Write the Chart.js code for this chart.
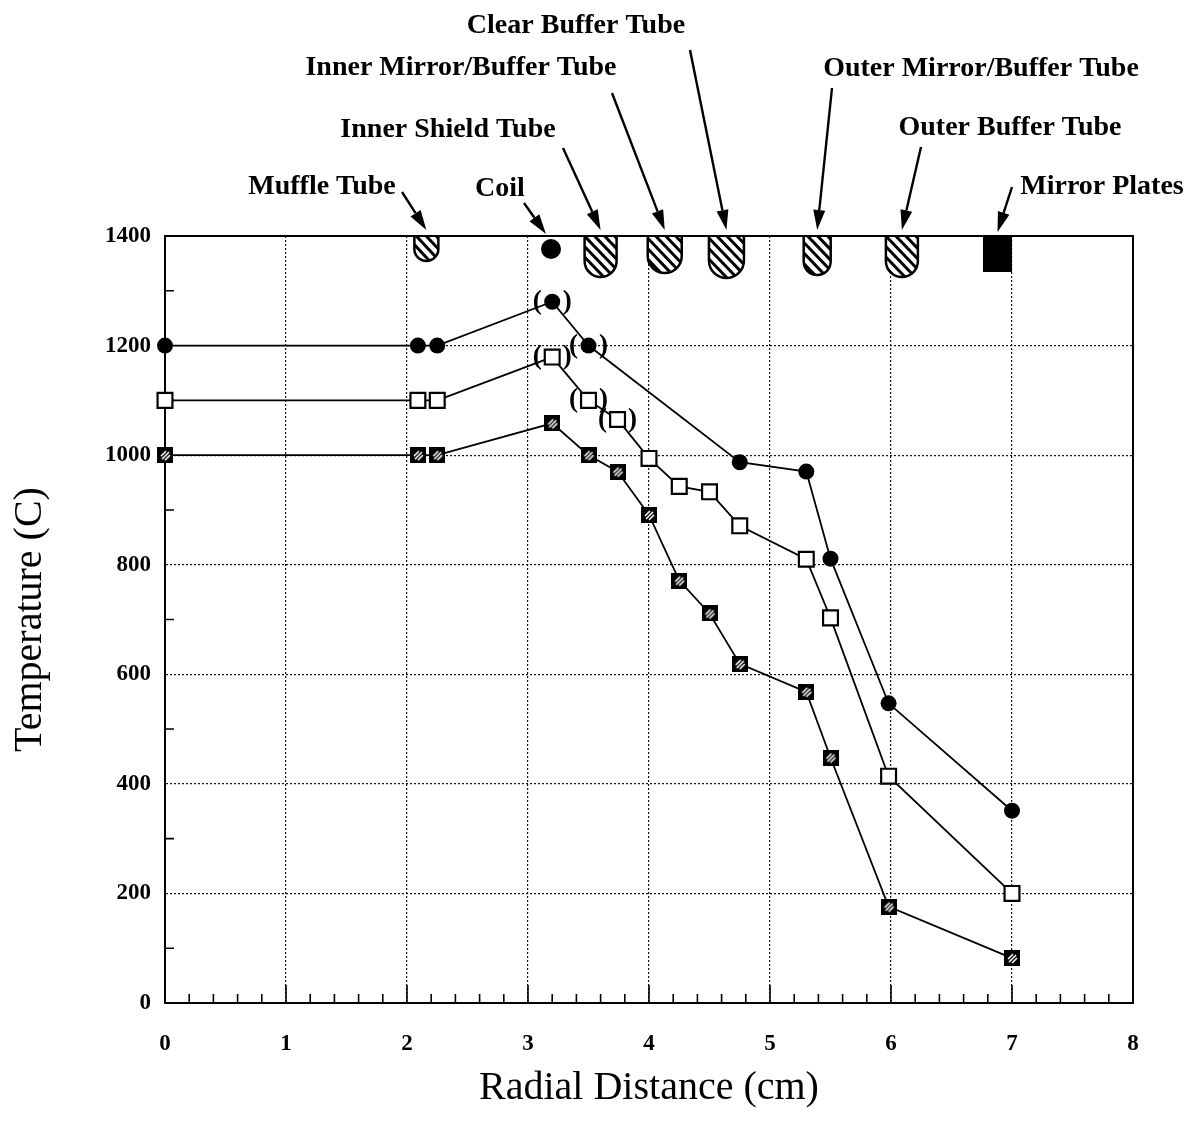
<!DOCTYPE html>
<html lang="en">
<head>
<meta charset="UTF-8">
<title>Radial Temperature Profile</title>
<script src="https://cdn.jsdelivr.net/npm/chart.js"></script>
<style>
    body { margin: 0; background: #fff; }
    .wrap { width: 1194px; height: 1130px; }
</style>
</head>
<body>
<div class="wrap"><canvas id="chart"></canvas></div>
<script>
// radial distance (cm) and temperature (C) for the three runs
const circleX = [0, 2.09, 2.25, 3.2, 3.5, 4.75, 5.3, 5.5, 5.98, 7];
const circleY = [1200, 1200, 1200, 1280, 1200, 987, 970, 811, 547, 351];
const openX = [0, 2.09, 2.25, 3.2, 3.5, 3.74, 4.0, 4.25, 4.5, 4.75, 5.3, 5.5, 5.98, 7];
const openY = [1100, 1100, 1100, 1179, 1100, 1065, 994, 943, 933, 871, 810, 703, 414, 200];
const hatchX = [0, 2.09, 2.25, 3.2, 3.5, 3.74, 4.0, 4.25, 4.5, 4.75, 5.3, 5.5, 5.98, 7];
const hatchY = [1000, 1000, 1000, 1058, 1000, 970, 891, 771, 711, 619, 568, 448, 176, 82];

// points shown in brackets
const circleBracket = [3, 4];
const openBracket = [3, 4, 5];

// furnace parts along the top edge
const partNames = ['Muffle Tube', 'Coil', 'Inner Shield Tube', 'Inner Mirror/Buffer Tube',
    'Clear Buffer Tube', 'Outer Mirror/Buffer Tube', 'Outer Buffer Tube', 'Mirror Plates'];
const partX = [2.16, 3.19, 3.6, 4.13, 4.64, 5.39, 6.09, 6.88];

const xTicks = [0, 1, 2, 3, 4, 5, 6, 7, 8];
const yTicks = [0, 200, 400, 600, 800, 1000, 1200, 1400];

const SERIF = "'Liberation Serif', 'DejaVu Serif', serif";

// drawing details for the parts: shape, size, label spot, arrow start
const partStyle = [
    { kind: 'tube', w: 24, h: 25, lx: 322, ly: 194, ax: 402, ay: 192, tipY: 230 },
    { kind: 'dot', w: 20, h: 0, lx: 500, ly: 196, ax: 524, ay: 203, tipY: 234 },
    { kind: 'tube', w: 32, h: 41, lx: 448, ly: 137, ax: 563, ay: 148, tipY: 230 },
    { kind: 'tube', w: 34, h: 37, lx: 461, ly: 75, ax: 612, ay: 93, tipY: 230 },
    { kind: 'tube', w: 35, h: 42, lx: 576, ly: 33, ax: 690, ay: 50, tipY: 230 },
    { kind: 'tube', w: 27, h: 39, lx: 981, ly: 76, ax: 832, ay: 88, tipY: 230 },
    { kind: 'tube', w: 32, h: 41, lx: 1010, ly: 135, ax: 921, ay: 147, tipY: 230 },
    { kind: 'plate', w: 29, h: 36, lx: 1102, ly: 194, ax: 1012, ay: 187, tipY: 232 }
];

function toPoints(xs, ys) {
    return xs.map((x, i) => ({ x: x, y: ys[i] }));
}

// black square with white diagonal stripes
function hatchMarker() {
    const c = document.createElement('canvas');
    c.width = 16; c.height = 16;
    const g = c.getContext('2d');
    g.fillStyle = '#000';
    g.fillRect(0, 0, 16, 16);
    g.strokeStyle = '#fff';
    g.lineWidth = 1.6;
    g.beginPath();
    g.moveTo(4, 9); g.lineTo(9, 4);
    g.moveTo(5, 12); g.lineTo(12, 5);
    g.moveTo(8, 13); g.lineTo(13, 8);
    g.stroke();
    return c;
}

function arrow(ctx, x1, y1, x2, y2) {
    const ang = Math.atan2(y2 - y1, x2 - x1);
    const len = 20, half = 6;
    const bx = x2 - len * Math.cos(ang), by = y2 - len * Math.sin(ang);
    ctx.beginPath();
    ctx.moveTo(x1, y1);
    ctx.lineTo(bx, by);
    ctx.stroke();
    ctx.beginPath();
    ctx.moveTo(x2, y2);
    ctx.lineTo(bx - half * Math.sin(ang), by + half * Math.cos(ang));
    ctx.lineTo(bx + half * Math.sin(ang), by - half * Math.cos(ang));
    ctx.closePath();
    ctx.fill();
}

function tube(ctx, cx, top, w, h) {
    const r = w / 2;
    ctx.beginPath();
    ctx.moveTo(cx - r, top);
    ctx.lineTo(cx - r, top + h - r);
    ctx.arc(cx, top + h - r, r, Math.PI, 0, true);
    ctx.lineTo(cx + r, top);
    ctx.closePath();
    ctx.fillStyle = '#fff';
    ctx.fill();
    ctx.save();
    ctx.clip();
    ctx.lineWidth = 3;
    ctx.beginPath();
    for (let k = -h; k < w + h; k += 10) {
        ctx.moveTo(cx - r + k - h, top - 2);
        ctx.lineTo(cx - r + k + 4, top + h + 4);
    }
    ctx.stroke();
    ctx.restore();
    ctx.lineWidth = 2.5;
    ctx.beginPath();
    ctx.moveTo(cx - r, top);
    ctx.lineTo(cx - r, top + h - r);
    ctx.arc(cx, top + h - r, r, Math.PI, 0, true);
    ctx.lineTo(cx + r, top);
    ctx.stroke();
}

const overlay = {
    id: 'overlay',
    beforeDatasetsDraw(chart) {
        const { ctx, chartArea: a, scales: { x, y } } = chart;
        ctx.save();
        ctx.strokeStyle = '#000';
        ctx.lineWidth = 2;
        ctx.strokeRect(a.left, a.top, a.right - a.left, a.bottom - a.top);
        // minor ticks along the bottom
        ctx.lineWidth = 1.6;
        ctx.beginPath();
        for (let i = 1; i < 40; i++) {
            const px = x.getPixelForValue(i / 5);
            const len = i % 5 === 0 ? 18 : 9;
            ctx.moveTo(px, a.bottom);
            ctx.lineTo(px, a.bottom - len);
        }
        // minor ticks along the left side
        for (let v = 100; v < 1400; v += 200) {
            const py = y.getPixelForValue(v);
            ctx.moveTo(a.left, py);
            ctx.lineTo(a.left + 9, py);
        }
        ctx.stroke();
        ctx.restore();
    },
    afterDatasetsDraw(chart) {
        const { ctx } = chart;
        ctx.save();
        ctx.fillStyle = '#000';
        ctx.font = 'bold 27px ' + SERIF;
        ctx.textAlign = 'center';
        ctx.textBaseline = 'middle';
        const marks = [[0, circleBracket], [1, openBracket]];
        marks.forEach(([di, idx]) => {
            const meta = chart.getDatasetMeta(di);
            idx.forEach(i => {
                const p = meta.data[i];
                ctx.fillText('(', p.x - 15, p.y);
                ctx.fillText(')', p.x + 15, p.y);
            });
        });
        ctx.restore();
    },
    afterDraw(chart) {
        const { ctx, chartArea: a, scales: { x } } = chart;
        ctx.save();
        ctx.strokeStyle = '#000';
        ctx.fillStyle = '#000';
        partX.forEach((v, i) => {
            const s = partStyle[i];
            const cx = x.getPixelForValue(v);
            if (s.kind === 'tube') {
                tube(ctx, cx, a.top, s.w, s.h);
            } else if (s.kind === 'dot') {
                ctx.beginPath();
                ctx.arc(cx, a.top + 13, s.w / 2, 0, Math.PI * 2);
                ctx.fill();
            } else {
                ctx.fillRect(cx - s.w / 2, a.top, s.w, s.h);
            }
            ctx.fillStyle = '#000';
            ctx.lineWidth = 2.4;
            arrow(ctx, s.ax, s.ay, cx - (i === 1 ? 5 : 0), s.tipY);
            ctx.font = 'bold 28px ' + SERIF;
            ctx.textAlign = 'center';
            ctx.textBaseline = 'alphabetic';
            ctx.fillText(partNames[i], s.lx, s.ly);
        });
        // top frame over the tubes
        ctx.lineWidth = 2;
        ctx.beginPath();
        ctx.moveTo(a.left, a.top);
        ctx.lineTo(a.right, a.top);
        ctx.stroke();
        ctx.restore();
    }
};

const lineStyle = {
    borderColor: '#000',
    borderWidth: 1.8,
    tension: 0,
    clip: false,
    pointBorderColor: '#000'
};

new Chart(document.getElementById('chart'), {
    type: 'scatter',
    data: {
        datasets: [
            Object.assign({
                label: 'Run A',
                data: toPoints(circleX, circleY),
                showLine: true,
                pointStyle: 'circle',
                pointRadius: 8,
                pointBackgroundColor: '#000',
                pointBorderWidth: 0
            }, lineStyle),
            Object.assign({
                label: 'Run B',
                data: toPoints(openX, openY),
                showLine: true,
                pointStyle: 'rect',
                pointRadius: 10.5,
                pointBackgroundColor: '#fff',
                pointBorderWidth: 2.2
            }, lineStyle),
            Object.assign({
                label: 'Run C',
                data: toPoints(hatchX, hatchY),
                showLine: true,
                pointStyle: hatchMarker(),
                pointRadius: 8
            }, lineStyle)
        ]
    },
    options: {
        responsive: true,
        maintainAspectRatio: false,
        animation: false,
        events: [],
        layout: { padding: { top: 236, right: 61, left: 0, bottom: 0 } },
        plugins: {
            legend: { display: false },
            tooltip: { enabled: false }
        },
        scales: {
            x: {
                type: 'linear',
                min: 0,
                max: 8,
                afterBuildTicks: s => { s.ticks = xTicks.map(v => ({ value: v })); },
                afterFit: s => { s.height = 127; },
                ticks: {
                    color: '#000',
                    padding: 27,
                    callback: v => String(v),
                    font: { family: SERIF, size: 23, weight: 'bold' }
                },
                grid: { color: '#111', lineWidth: 1.2, drawTicks: false },
                border: { color: '#000', width: 2, dash: [2, 2] },
                title: {
                    display: true,
                    text: 'Radial Distance (cm)',
                    color: '#000',
                    font: { family: SERIF, size: 40 },
                    padding: { top: 0, bottom: 18 }
                }
            },
            y: {
                type: 'linear',
                min: 0,
                max: 1400,
                afterBuildTicks: s => { s.ticks = yTicks.map(v => ({ value: v })); },
                afterFit: s => { s.width = 165; },
                ticks: {
                    color: '#000',
                    padding: 14,
                    callback: v => String(v),
                    font: { family: SERIF, size: 23, weight: 'bold' }
                },
                grid: { color: '#111', lineWidth: 1.2, drawTicks: false },
                border: { color: '#000', width: 2, dash: [2, 2] },
                title: {
                    display: true,
                    text: 'Temperature (C)',
                    color: '#000',
                    font: { family: SERIF, size: 40 },
                    padding: { top: 6, bottom: 0 }
                }
            }
        }
    },
    plugins: [overlay]
});
</script>
</body>
</html>
